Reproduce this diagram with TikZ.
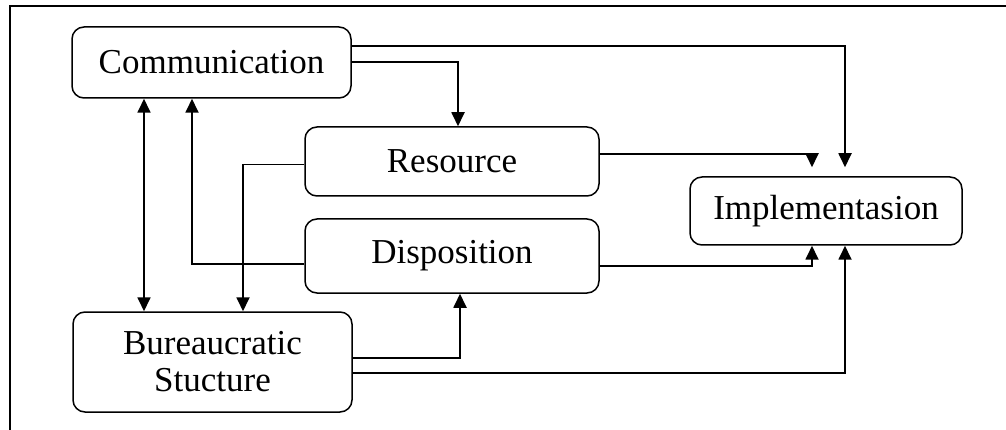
\documentclass[tikz,border=0pt]{standalone}
\usepackage{fontspec}
\setmainfont{Liberation Serif}
\usetikzlibrary{arrows.meta}
\tikzset{
  box/.style={draw, line width=1.5pt, rounded corners=12pt, align=center,
    font=\fontsize{35}{37}\selectfont, inner sep=0pt},
  arr/.style={line width=1.8pt, -{Triangle[length=14pt,width=13pt]}},
  darr/.style={line width=1.8pt, {Triangle[length=14pt,width=13pt]}-{Triangle[length=14pt,width=13pt]}},
  frame/.style={line width=2pt}
}
\begin{document}
\begin{tikzpicture}[x=1pt,y=-1pt]
\useasboundingbox (0,0) rectangle (1006,430);
\coordinate (fb) at (10,430);
\coordinate (fc) at (10,6);
\coordinate (fr) at (1006,6);
\draw[frame] (fb) -- (fc) -- (fr);

\node[box, minimum width=279pt, minimum height=71pt] (comm) at (211.5,62.5) {Communication};
\node[box, minimum width=294pt, minimum height=69pt] (res) at (452,161.5) {Resource};
\node[box, minimum width=294pt, minimum height=74pt] (disp) at (452,256) {Disposition};
\node[box, minimum width=279pt, minimum height=100pt] (bur) at (212.5,362) {Bureaucratic\\Stucture};
\node[box, minimum width=272pt, minimum height=68pt] (impl) at (826,211) {Implementasion};

\draw[arr, shorten >=9pt] ([yshift=16.5pt]comm.east) -| ([xshift=19pt]impl.north);
\draw[arr] ([yshift=0.5pt]comm.east) -| ([xshift=6pt]res.north);
\draw[arr, shorten >=9pt] ([yshift=7.5pt]res.east) -| ([xshift=-14pt]impl.north);
\draw[arr] ([yshift=-10pt]disp.east) -| ([xshift=-14pt]impl.south);
\draw[arr] ([yshift=-11pt]bur.east) -| ([xshift=19pt]impl.south);
\draw[arr] ([yshift=4pt]bur.east) -| ([xshift=8pt]disp.south);
\draw[darr] ([xshift=-67.5pt]comm.south) -- ([xshift=-68.5pt]bur.north);
\draw[arr] ([yshift=-8pt]disp.west) -| ([xshift=-19.5pt]comm.south);
\draw[arr] ([yshift=-3pt]res.west) -| ([xshift=30.5pt]bur.north);
\end{tikzpicture}
\end{document}
